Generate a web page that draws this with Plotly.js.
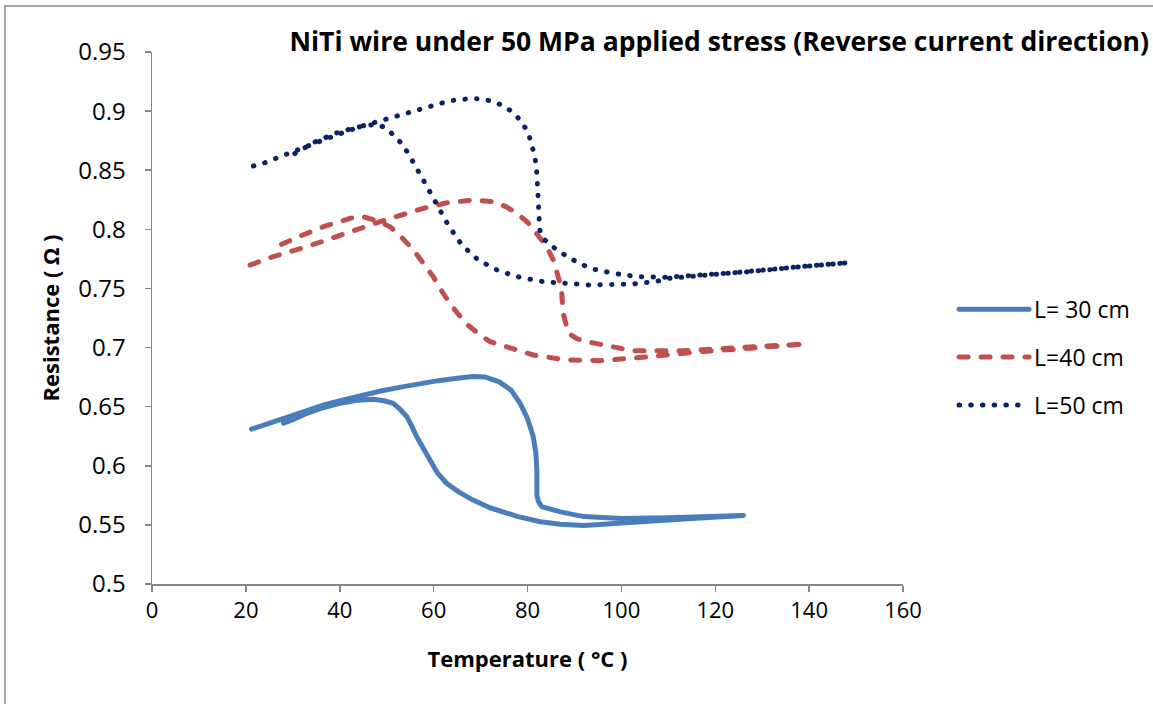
<!DOCTYPE html>
<html>
<head>
<meta charset="utf-8">
<script src="https://cdn.plot.ly/plotly-3.0.1.min.js"></script>
<style>
  html, body { margin: 0; padding: 0; background: #fff; }
  #wrap { position: relative; width: 1153px; height: 704px; }
  #chart { width: 1153px; height: 704px; }
  #frame { position: absolute; left: 4px; top: 5px; width: 1200px; height: 800px;
           border-left: 2px solid #a6a6a6; border-top: 2px solid #a6a6a6; pointer-events: none; }
  .js-line { stroke-linecap: round; stroke-linejoin: round; }
</style>
</head>
<body>
<div id="wrap"><div id="chart"></div><div id="frame"></div></div>
<script>
// Series names
const seriesNames = ["L= 30 cm", "L=40 cm", "L=50 cm"];

// L = 30 cm : heating branch then cooling branch (closed loop)
const temp30 = [21.2, 25, 29, 33, 37, 41, 45, 49, 53, 57, 61, 65, 68.4, 71, 74, 76.5, 78.4, 80, 81.2, 81.8, 82.0, 82.0, 82.3, 83.0, 87, 92, 100, 110, 120, 126,
                115, 105, 95, 92, 87, 82.7, 78, 75.6, 72, 68.4, 65.5, 62.8, 60.8, 59.2, 57.7, 56.4, 55.3, 54.3, 52.8, 51.4, 49.5, 47.1, 44, 40, 36, 33, 30, 28];
const res30  = [0.631, 0.636, 0.642, 0.647, 0.652, 0.656, 0.660, 0.6635, 0.6665, 0.6695, 0.672, 0.674, 0.6755, 0.675, 0.671, 0.664, 0.653, 0.640, 0.625, 0.610, 0.595, 0.575, 0.570, 0.5655, 0.561, 0.557, 0.5555, 0.556, 0.557, 0.558,
                0.5555, 0.553, 0.5505, 0.5495, 0.5505, 0.5527, 0.557, 0.560, 0.5645, 0.571, 0.5775, 0.585, 0.594, 0.605, 0.615, 0.6246, 0.634, 0.6415, 0.648, 0.6528, 0.655, 0.6562, 0.6555, 0.6528, 0.6485, 0.6444, 0.639, 0.636];

// L = 40 cm
const temp40 = [20.9, 25.8, 33, 40, 48.6, 57.8, 63, 68.4, 72.7, 75.5, 77.7, 80, 82, 84, 85.5, 86.2, 86.9, 87.3, 87.6, 88.7, 90.5, 92.6, 97.6, 102.5, 113.2, 123.8, 134.5, 139.1,
                127.4, 116.7, 106.1, 95.4, 88.3, 81.2, 76.3, 72, 69.9, 67, 64.5, 62, 59.9, 57.8, 55.7, 53, 50.7, 48, 45, 42.2, 36.5, 32, 27.3];
const res40  = [0.7698, 0.7769, 0.7853, 0.7952, 0.8065, 0.8178, 0.8225, 0.8248, 0.8234, 0.819, 0.8136, 0.806, 0.7966, 0.786, 0.774, 0.7656, 0.755, 0.7459, 0.729, 0.7121, 0.7075, 0.705, 0.7007, 0.6973, 0.6973, 0.6994, 0.7022, 0.703,
                0.6994, 0.6965, 0.6923, 0.6889, 0.6895, 0.6937, 0.6997, 0.705, 0.7106, 0.72, 0.7318, 0.746, 0.76, 0.771, 0.7825, 0.794, 0.8022, 0.807, 0.8107, 0.8093, 0.8022, 0.795, 0.7868];

// L = 50 cm
const temp50 = [21.6, 24.1, 27.3, 30.8, 35.1, 39.3, 44.3, 49.3, 52.8, 56.4, 60, 63.5, 68.4, 71, 73.4, 75.5, 77.3, 78.9, 80.2, 81.0, 81.6, 82.0, 82.2, 82.4, 82.6, 83, 84.8, 89, 93.3, 98.3, 103.3, 108.9, 116.7, 127.4, 138, 148.3,
                138, 127.4, 116.7, 110, 107.5, 102.5, 93.3, 88, 83.4, 78.4, 73.8, 69.5, 66, 63.1, 60.6, 58.5, 56, 53.5, 50, 47.9, 45, 40, 35, 32, 29];
const res50  = [0.8536, 0.8564, 0.8615, 0.8671, 0.8733, 0.8798, 0.8868, 0.8925, 0.897, 0.9015, 0.9055, 0.9088, 0.9108, 0.9098, 0.9071, 0.903, 0.8975, 0.89, 0.8812, 0.871, 0.8614, 0.847, 0.8333, 0.8121, 0.80, 0.7938, 0.7868, 0.7755, 0.767, 0.7628, 0.76, 0.7594, 0.7614, 0.7642, 0.7684, 0.7718,
                0.7684, 0.7642, 0.761, 0.7585, 0.756, 0.7538, 0.7529, 0.754, 0.7557, 0.7594, 0.765, 0.774, 0.7868, 0.8037, 0.8206, 0.8367, 0.8544, 0.8713, 0.8855, 0.8889, 0.8875, 0.8826, 0.8745, 0.868, 0.8609];

// Axis ticks
const xTicks = [0, 20, 40, 60, 80, 100, 120, 140, 160];
const yTicks = [0.5, 0.55, 0.6, 0.65, 0.7, 0.75, 0.8, 0.85, 0.9, 0.95];
const yTickText = ["0.5", "0.55", "0.6", "0.65", "0.7", "0.75", "0.8", "0.85", "0.9", "0.95"];

const FONT = "'Open Sans', Lato, sans-serif";

const traces = [
  { x: temp30, y: res30, name: seriesNames[0], mode: "lines",
    line: { color: "#4a7ebb", width: 5, dash: "solid" } },
  { x: temp40, y: res40, name: seriesNames[1], mode: "lines",
    line: { color: "#c0504d", width: 5, dash: "9px,13px" } },
  { x: temp50, y: res50, name: seriesNames[2], mode: "lines",
    line: { color: "#0c2361", width: 5, dash: "0.5px,11.2px" } }
];

const layout = {
  width: 1153, height: 704,
  margin: { l: 152, r: 250, t: 52, b: 120 },
  paper_bgcolor: "#ffffff", plot_bgcolor: "#ffffff",
  font: { family: FONT, color: "#000000", size: 22 },
  showlegend: true,
  title: {
    text: "<b>NiTi wire under 50 MPa applied stress (Reverse current direction)</b>",
    font: { family: FONT, size: 26.5, color: "#000" },
    xref: "container", x: 1149 / 1153, xanchor: "right",
    yref: "container", y: 1 - 42 / 704, yanchor: "middle"
  },
  xaxis: {
    range: [0, 160], tickvals: xTicks, ticktext: xTicks.map(String),
    showgrid: false, zeroline: false, showline: true, linecolor: "#868686", linewidth: 1.5,
    ticks: "outside", ticklen: 6, tickcolor: "#868686", tickwidth: 1.5,
    tickfont: { family: FONT, size: 22 },
    title: { text: "<b>Temperature ( °C )</b>", font: { family: FONT, size: 22 }, standoff: 28 }
  },
  yaxis: {
    range: [0.5, 0.95], tickvals: yTicks, ticktext: yTickText,
    showgrid: false, zeroline: false, showline: true, linecolor: "#868686", linewidth: 1.5,
    ticks: "outside", ticklen: 6, tickcolor: "#868686", tickwidth: 1.5,
    tickfont: { family: FONT, size: 24 }, ticklabelstandoff: 14,
    title: { text: "<b>Resistance ( Ω )</b>", font: { family: FONT, size: 22 }, standoff: 12 }
  },
  legend: {
    x: 1.068, xanchor: "left", y: 0.557, yanchor: "top",
    font: { family: FONT, size: 23 }, itemwidth: 70,
    tracegroupgap: 15, traceorder: "grouped", bgcolor: "rgba(0,0,0,0)"
  }
};
traces.forEach((t, i) => { t.legendgroup = "g" + i; });

Plotly.newPlot("chart", traces, layout, { staticPlot: true, displayModeBar: false });
</script>
</body>
</html>
